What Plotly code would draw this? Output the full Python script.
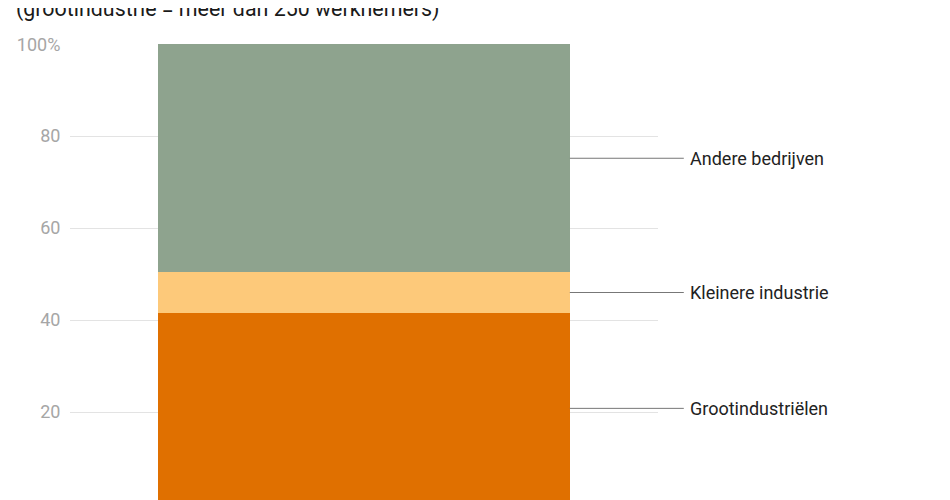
import plotly.graph_objects as go

categories = ["Totaal"]
series_names = ["Grootindustriëlen", "Kleinere industrie", "Andere bedrijven"]
series_values = [41.6, 8.8, 49.6]
series_colors = ["#e07000", "#fdc97a", "#8ea38e"]
tick_vals = [20, 40, 60, 80, 100]
tick_text = ["20", "40", "60", "80", "100%"]
title_text = "(grootindustrie = meer dan 250 werknemers)"

fig = go.Figure()
for name, val, col in zip(series_names, series_values, series_colors):
    fig.add_trace(go.Bar(x=categories, y=[val], name=name,
                         marker=dict(color=col, line=dict(width=0)), hoverinfo="skip"))

# labels with leader lines at segment midpoints
cum = 0
for name, val in zip(series_names, series_values):
    mid = cum + val / 2
    cum += val
    fig.add_annotation(x=0.35, y=mid, xref="x", yref="y", text=name, showarrow=True,
                       arrowhead=0, arrowwidth=1, arrowcolor="#777777", ax=114, ay=0,
                       xanchor="left", borderpad=5,
                       font=dict(family="Roboto", size=18, color="#222222"))

fig.add_annotation(x=-0.0952, y=1.044, xref="paper", yref="paper", text=title_text,
                   showarrow=False, xanchor="left", yanchor="bottom",
                   font=dict(family="Roboto", size=21.4, color="#1a1a1a"))

fig.update_layout(
    width=942, height=492,
    margin=dict(l=62, r=292, t=36, b=0),
    barmode="stack", bargap=0.3,
    showlegend=False,
    plot_bgcolor="white", paper_bgcolor="white",
    font=dict(family="Roboto"),
    xaxis=dict(showticklabels=False, showgrid=False, zeroline=False, showline=False,
               range=[-0.5, 0.5]),
    yaxis=dict(range=[0.87, 100.05], tickvals=tick_vals, ticktext=tick_text,
               showgrid=True, gridcolor="#e3e3e3", gridwidth=1, zeroline=False, showline=False,
               ticks="outside", ticklen=5, tickcolor="rgba(0,0,0,0)",
               tickfont=dict(family="Roboto", size=18, color="#a6a6a6")),
)

fig.write_html("out.html")
